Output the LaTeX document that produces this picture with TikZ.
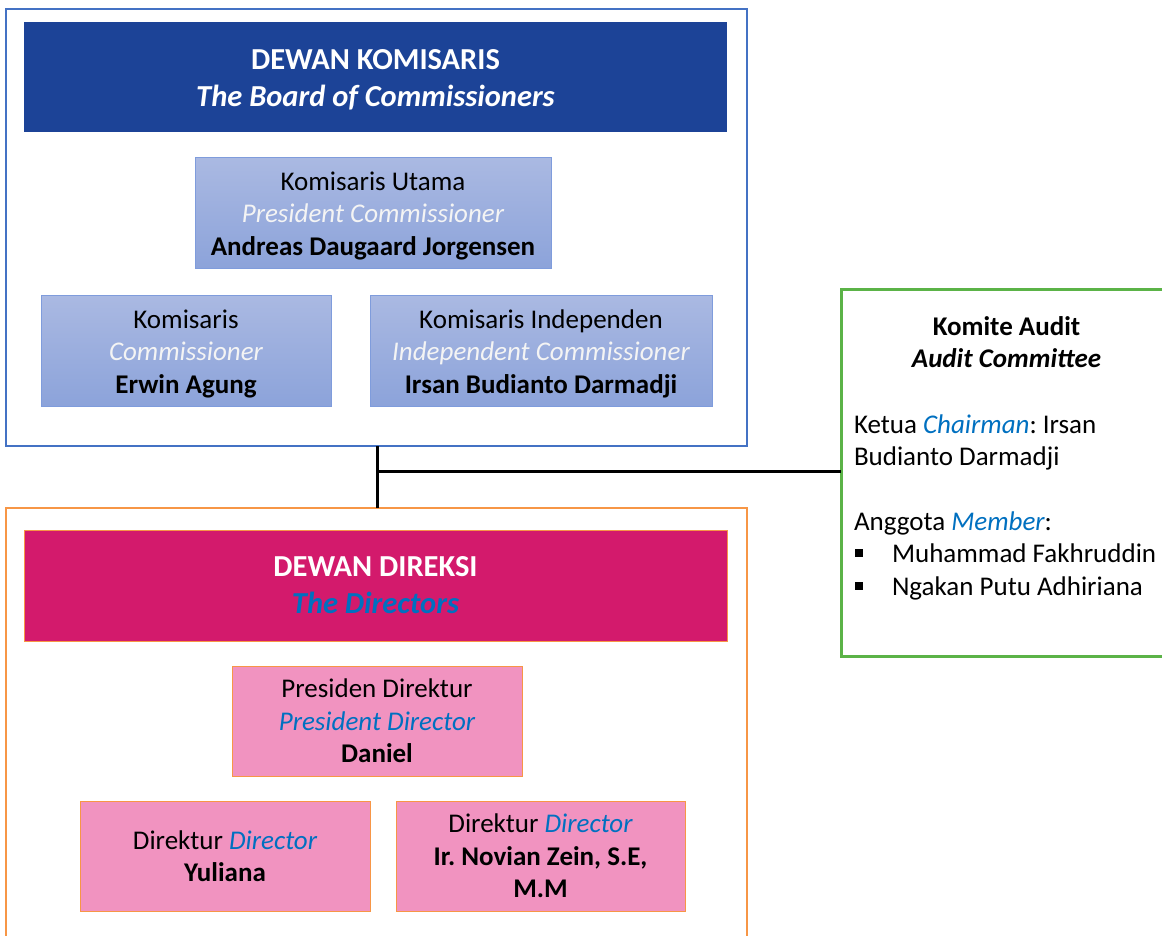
\documentclass[tikz,border=0pt]{standalone}
\usepackage{fontspec}
\setmainfont{Carlito}
\frenchspacing
\definecolor{hdrblue}{HTML}{1C4397}
\definecolor{hdrmag}{HTML}{D31A6C}
\definecolor{lbtop}{HTML}{AAB9E2}
\definecolor{lbbot}{HTML}{8CA3DA}
\definecolor{lbdraw}{HTML}{7F9CDC}
\definecolor{outblue}{HTML}{4472C4}
\definecolor{outorange}{HTML}{F79646}
\definecolor{pinkfill}{HTML}{F193C0}
\definecolor{audgreen}{HTML}{5BB347}
\definecolor{engblue}{HTML}{0070C0}
\definecolor{offwhite}{HTML}{F4F4F4}
\begin{document}
\begin{tikzpicture}[x=1pt,y=-1pt,
  every node/.style={inner sep=0pt, outer sep=0pt},
  outerbox/.style={draw, line width=1.3pt, fill=white},
  hdrtext/.style={align=center, text=white, font=\fontsize{30.5}{37}\selectfont\bfseries},
  bluebox/.style={draw=lbdraw, line width=1pt, top color=lbtop, bottom color=lbbot},
  boxtext/.style={align=center, font=\fontsize{27}{32.5}\selectfont},
  pinkbox/.style={draw=outorange, line width=1pt, fill=pinkfill, align=center, font=\fontsize{27}{32.5}\selectfont},
  audtext/.style={font=\fontsize{27}{32.5}\selectfont, anchor=base west},
  bulletsq/.style={fill=black, minimum width=7.5, minimum height=7.5},
  link/.style={line width=3pt, black}
]
\useasboundingbox (0,0) rectangle (1162,936);
% outer frames
\node[outerbox, draw=outblue, minimum width=741, minimum height=437] (kom) at (376.5,227.5) {};
\node[outerbox, draw=outorange, minimum width=741, minimum height=440] (dir) at (376.5,728) {};
\node[draw=audgreen, line width=3pt, fill=white, minimum width=332, minimum height=367] (aud) at (1007,472.5) {};
% headers
\node[fill=hdrblue, minimum width=703, minimum height=110] (kh) at (375.5,77) {};
\node[hdrtext, yshift=-3pt] (kht) at (kh) {DEWAN KOMISARIS\\\itshape The Board of Commissioners};
\node[hdrtext, fill=hdrmag, draw=outorange, line width=0.8pt, minimum width=703, minimum height=111] (dh) at (375.5,585.5)
  {DEWAN DIREKSI\\\color{engblue}\itshape The Directors};
% commissioners
\node[bluebox, minimum width=356, minimum height=110] (ku) at (373,213) {};
\node[boxtext, yshift=-3pt] (kut) at (ku)
  {Komisaris Utama\\\textcolor{offwhite}{\itshape President Commissioner}\\\bfseries Andreas Daugaard Jorgensen};
\node[bluebox, minimum width=290, minimum height=111] (k1) at (186,350.5) {};
\node[boxtext, yshift=-3pt] (k1t) at (k1)
  {Komisaris\\\textcolor{offwhite}{\itshape Commissioner}\\\bfseries Erwin Agung};
\node[bluebox, minimum width=342, minimum height=111] (k2) at (541,350.5) {};
\node[boxtext, yshift=-3pt] (k2t) at (k2)
  {Komisaris Independen\\\textcolor{offwhite}{\itshape Independent Commissioner}\\\bfseries Irsan Budianto Darmadji};
% directors
\node[pinkbox, minimum width=290, minimum height=110] (pd) at (377,721)
  {Presiden Direktur\\\textcolor{engblue}{\itshape President Director}\\\bfseries Daniel};
\node[pinkbox, minimum width=290, minimum height=110] (d1) at (225,856)
  {Direktur \textcolor{engblue}{\itshape Director}\\\bfseries Yuliana};
\node[pinkbox, minimum width=289, minimum height=110] (d2) at (540.5,856)
  {Direktur \textcolor{engblue}{\itshape Director}\\\bfseries Ir. Novian Zein, S.E,\\\bfseries M.M};
% audit committee text
\node[align=center, font=\fontsize{27}{32.5}\selectfont\bfseries] (at) at (1006.5,342)
  {Komite Audit\\\itshape Audit Committee};
\node[audtext] (a1) at (854,433) {Ketua \textcolor{engblue}{\itshape Chairman}: Irsan};
\node[audtext] (a2) at (854,465.5) {Budianto Darmadji};
\node[audtext] (a3) at (854,530) {Anggota \textcolor{engblue}{\itshape Member}:};
\node[bulletsq] (b1) at (859,553) {};
\node[audtext] (a4) at (892,562.5) {Muhammad Fakhruddin};
\node[bulletsq] (b2) at (859,586) {};
\node[audtext] (a5) at (892,595) {Ngakan Putu Adhiriana};
% connectors
\coordinate (j) at (377,471);
\draw[link] (kom.south -| j) -- (dir.north -| j);
\draw[link] (j) -- (j -| aud.west);
\end{tikzpicture}
\end{document}
